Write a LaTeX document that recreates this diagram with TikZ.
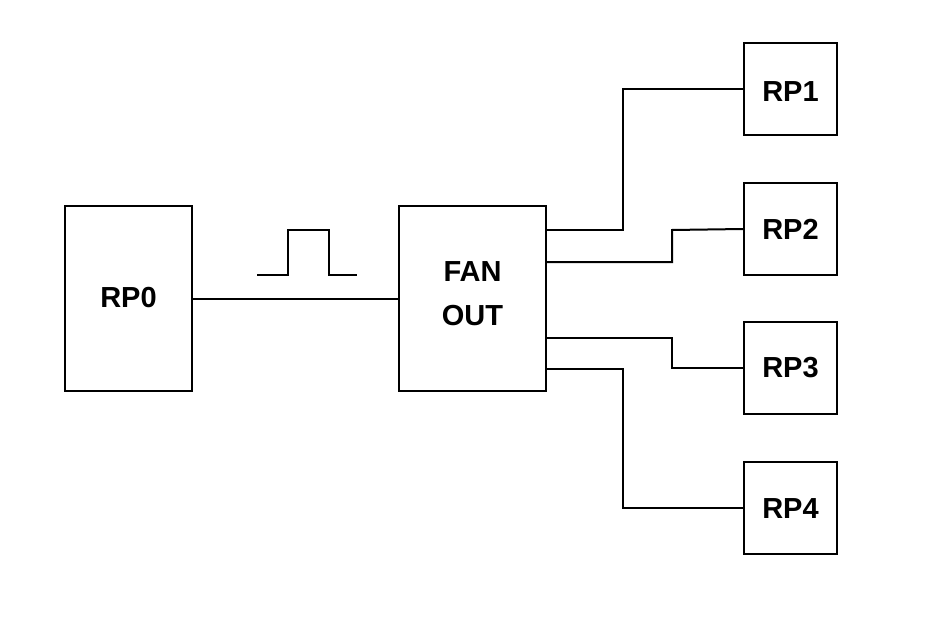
\documentclass[tikz,border=0pt]{standalone}
\usepackage{fontspec}
\setmainfont{Liberation Sans}
\begin{document}
\begin{tikzpicture}[x=1pt,y=-1pt,
  blk/.style={draw,line width=1.8pt,inner sep=0pt},
  lbl/.style={inner sep=0pt,font=\bfseries\fontsize{29}{44}\selectfont,align=center},
  wire/.style={line width=2pt}]
\useasboundingbox (0,0) rectangle (946,618);
\node[blk,minimum width=127pt,minimum height=185pt] (rp0) at (128.5,298.5) {};
\node[blk,minimum width=147pt,minimum height=185pt] (fan) at (472.5,298.5) {};
\node[blk,minimum width=93pt,minimum height=92pt] (rp1) at (790.5,89) {};
\node[blk,minimum width=93pt,minimum height=92pt] (rp2) at (790.5,229) {};
\node[blk,minimum width=93pt,minimum height=92pt] (rp3) at (790.5,368) {};
\node[blk,minimum width=93pt,minimum height=92pt] (rp4) at (790.5,508) {};
\node[lbl] (t0) at ([yshift=1pt]rp0.center) {RP0};
\node[lbl] (tf) at ([yshift=5pt]fan.center) {FAN\\OUT};
\node[lbl] (t1) at ([yshift=-3pt]rp1.center) {RP1};
\node[lbl] (t2) at (rp2.center) {RP2};
\node[lbl] (t3) at (rp3.center) {RP3};
\node[lbl] (t4) at ([yshift=-1pt]rp4.center) {RP4};
\draw[wire] (rp0) -- (fan);
\draw[wire] (257,275) -- (288,275) -- (288,230) -- (329,230) -- (329,275) -- (357,275);
\coordinate (a1) at (fan.east |- 0,230);
\coordinate (a2) at (fan.east |- 0,262);
\coordinate (a3) at (fan.east |- 0,338);
\coordinate (a4) at (fan.east |- 0,369);
\draw[wire] (a1) -- (623,230) |- (rp1.west);
\draw[wire] (a2) -- (672,262) -- (672,230) -- (rp2.west);
\draw[wire] (a3) -- (672,338) |- (rp3.west);
\draw[wire] (a4) -- (623,369) |- (rp4.west);
\end{tikzpicture}
\end{document}
